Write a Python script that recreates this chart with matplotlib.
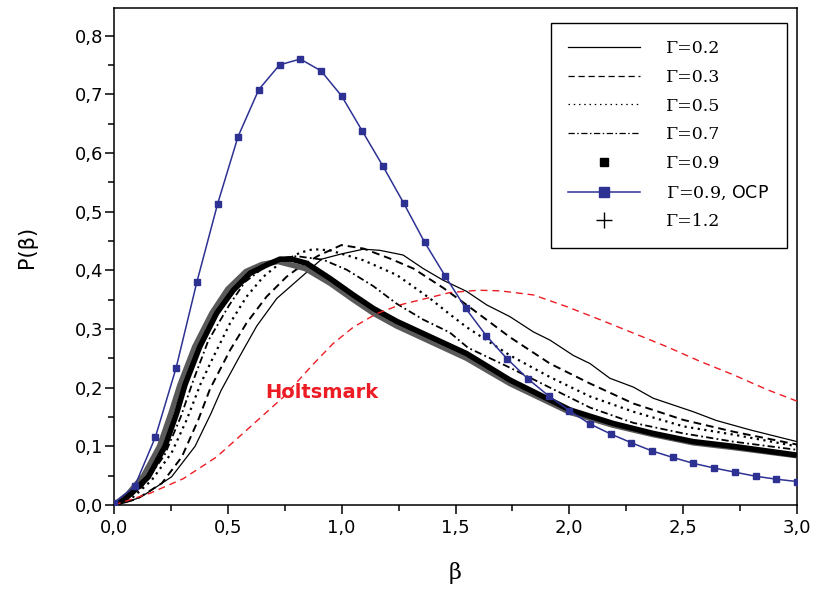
import matplotlib
matplotlib.use('Agg')
import matplotlib.pyplot as plt
from matplotlib.lines import Line2D
from matplotlib.ticker import MultipleLocator, FuncFormatter

plt.rcParams['mathtext.fontset'] = 'custom'
plt.rcParams['mathtext.rm'] = 'DejaVu Serif'
plt.rcParams['mathtext.sf'] = 'DejaVu Sans'
plt.rcParams['font.family'] = ['DejaVu Sans']

# ---------------- data ----------------
b02 = [0.0, 0.05, 0.107, 0.136, 0.253, 0.356, 0.426, 0.47, 0.55, 0.627, 0.715, 0.912, 1.0, 1.096,
       1.168, 1.27, 1.358, 1.446, 1.549, 1.637, 1.739, 1.842, 1.915, 2.017, 2.091, 2.178, 2.281,
       2.368, 2.544, 2.646, 2.794, 3.0]
p02 = [0.0, 0.004, 0.012, 0.018, 0.048, 0.1, 0.156, 0.195, 0.252, 0.305, 0.352, 0.419, 0.428, 0.436,
       0.434, 0.426, 0.403, 0.383, 0.364, 0.341, 0.321, 0.295, 0.281, 0.255, 0.241, 0.216, 0.201,
       0.182, 0.159, 0.144, 0.128, 0.108]

b03 = [0.0, 0.1, 0.21, 0.298, 0.37, 0.422, 0.51, 0.582, 0.67, 0.758, 0.817, 0.898, 0.999, 1.096,
       1.212, 1.315, 1.446, 1.549, 1.739, 1.915, 2.091, 2.281, 2.501, 2.72, 3.0]
p03 = [0.0, 0.01, 0.037, 0.082, 0.145, 0.198, 0.264, 0.31, 0.355, 0.389, 0.406, 0.425, 0.443, 0.437,
       0.42, 0.403, 0.37, 0.341, 0.286, 0.241, 0.207, 0.173, 0.145, 0.125, 0.103]

b05 = [0.0, 0.08, 0.165, 0.253, 0.319, 0.381, 0.436, 0.51, 0.582, 0.656, 0.729, 0.817, 0.875, 0.949,
       1.096, 1.242, 1.388, 1.475, 1.549, 1.739, 1.915, 2.091, 2.281, 2.501, 2.72, 3.0]
p05 = [0.0, 0.012, 0.042, 0.089, 0.145, 0.207, 0.252, 0.31, 0.355, 0.389, 0.412, 0.43, 0.436, 0.434,
       0.417, 0.392, 0.352, 0.325, 0.303, 0.255, 0.218, 0.185, 0.159, 0.134, 0.12, 0.1]

b07 = [0.0, 0.06, 0.121, 0.222, 0.293, 0.348, 0.414, 0.505, 0.575, 0.676, 0.757, 0.803, 0.919, 1.022,
       1.139, 1.242, 1.358, 1.475, 1.555, 1.739, 1.915, 2.091, 2.281, 2.501, 2.72, 3.0]
p07 = [0.0, 0.012, 0.03, 0.085, 0.15, 0.212, 0.28, 0.34, 0.38, 0.41, 0.422, 0.424, 0.418, 0.401,
       0.373, 0.343, 0.316, 0.294, 0.268, 0.234, 0.2, 0.166, 0.14, 0.122, 0.108, 0.094]

b09 = [0.0, 0.04, 0.077, 0.151, 0.224, 0.275, 0.312, 0.377, 0.451, 0.524, 0.598, 0.67, 0.729, 0.78,
       0.846, 0.949, 1.051, 1.139, 1.242, 1.549, 1.739, 2.003, 2.192, 2.368, 2.544, 2.72, 3.0]
p09 = [0.0, 0.008, 0.02, 0.048, 0.1, 0.156, 0.205, 0.27, 0.327, 0.366, 0.395, 0.409, 0.419, 0.419,
       0.412, 0.386, 0.358, 0.335, 0.313, 0.258, 0.213, 0.162, 0.139, 0.122, 0.108, 0.1, 0.085]

b12 = [0.0, 0.06, 0.13, 0.2, 0.25, 0.29, 0.355, 0.43, 0.5, 0.58, 0.65, 0.72, 0.84, 0.949, 1.051,
       1.139, 1.242, 1.549, 1.739, 2.003, 2.192, 2.368, 2.544, 2.72, 3.0]
p12 = [0.0, 0.018, 0.05, 0.1, 0.156, 0.205, 0.27, 0.327, 0.368, 0.398, 0.41, 0.415, 0.403, 0.378,
       0.35, 0.327, 0.305, 0.25, 0.207, 0.158, 0.136, 0.12, 0.106, 0.098, 0.084]

b_ocp = [0.0, 0.091, 0.182, 0.273, 0.364, 0.455, 0.545, 0.636, 0.727, 0.818, 0.909, 1.0, 1.091,
         1.182, 1.273, 1.364, 1.455, 1.545, 1.636, 1.727, 1.818, 1.909, 2.0, 2.091, 2.182, 2.273,
         2.364, 2.455, 2.545, 2.636, 2.727, 2.818, 2.909, 3.0]
p_ocp = [0.003, 0.032, 0.116, 0.234, 0.380, 0.513, 0.628, 0.708, 0.750, 0.760, 0.740, 0.697, 0.637,
         0.577, 0.514, 0.448, 0.390, 0.335, 0.288, 0.249, 0.215, 0.186, 0.161, 0.138, 0.121, 0.106,
         0.092, 0.081, 0.071, 0.063, 0.056, 0.049, 0.044, 0.040]

b_holt = [0.0, 0.158, 0.305, 0.451, 0.598, 0.744, 0.875, 0.962, 1.051, 1.153, 1.256, 1.329, 1.475,
          1.6, 1.696, 1.842, 1.989, 2.134, 2.281, 2.427, 2.573, 2.72, 2.866, 3.0]
p_holt = [0.0, 0.02, 0.045, 0.082, 0.133, 0.184, 0.24, 0.275, 0.303, 0.326, 0.341, 0.348, 0.362,
          0.366, 0.365, 0.358, 0.338, 0.316, 0.293, 0.27, 0.245, 0.222, 0.197, 0.177]

x_ticks = [0.0, 0.5, 1.0, 1.5, 2.0, 2.5, 3.0]
y_ticks = [0.0, 0.1, 0.2, 0.3, 0.4, 0.5, 0.6, 0.7, 0.8]

labels = ['Γ=0.2', 'Γ=0.3', 'Γ=0.5', 'Γ=0.7', 'Γ=0.9', 'Γ=0.9, $\\mathsf{OCP}$', 'Γ=1.2']

# ---------------- figure ----------------
fig = plt.figure(figsize=(8.14, 5.9), dpi=100)
ax = fig.add_axes([114 / 814, 85 / 590, 683 / 814, 497 / 590])

blue = '#2d3192'
red = '#ed1c24'

ax.plot(b_holt, p_holt, color=red, lw=1.0, ls=(0, (5, 3.5)), zorder=4)
ax.plot(b02, p02, color='black', lw=0.9, ls='-', zorder=3)
ax.plot(b03, p03, color='black', lw=1.4, ls=(0, (4, 2.5)), zorder=3)
ax.plot(b05, p05, color='black', lw=1.6, ls=(0, (1, 2)), zorder=3)
ax.plot(b07, p07, color='black', lw=1.3, ls=(0, (4, 1.8, 1, 1.8)), zorder=3)
ax.plot(b12, p12, color='#5a5a5a', lw=4.0, ls='-', zorder=3.2, solid_capstyle='butt')
ax.plot(b09, p09, color='black', lw=4.0, ls='-', zorder=3.4, solid_capstyle='butt')
ax.plot(b_ocp, p_ocp, color=blue, lw=1.1, marker='s', ms=5, mfc=blue, mec=blue, zorder=5)

ax.text(0.663, 0.182, 'Holtsmark', color=red, fontsize=14, fontweight='bold',
        ha='left', va='baseline', family='DejaVu Sans')

ax.set_xlim(0, 3.0)
ax.set_ylim(0, 0.847)
ax.set_xticks(x_ticks)
ax.set_yticks(y_ticks)
ax.xaxis.set_minor_locator(MultipleLocator(0.25))
ax.yaxis.set_minor_locator(MultipleLocator(0.05))
fmt = FuncFormatter(lambda v, p: ('%.1f' % v).replace('.', ','))
ax.xaxis.set_major_formatter(fmt)
ax.yaxis.set_major_formatter(fmt)
ax.tick_params(which='both', direction='out', top=False, right=False, width=1.1,
               labelsize=13)
ax.tick_params(which='major', length=6.5)
ax.tick_params(which='minor', length=4.0)
ax.tick_params(axis='x', which='major', pad=3.5)
ax.tick_params(axis='y', which='major', pad=1.0)
for s in ax.spines.values():
    s.set_linewidth(1.1)

ax.set_xlabel('β', family='DejaVu Serif', fontsize=16)
ax.set_ylabel('P(β)', fontsize=15)
ax.xaxis.set_label_coords(0.4993, -0.115)
ax.yaxis.set_label_coords(-0.113, 0.52)

handles = [
    Line2D([], [], color='black', lw=0.9, ls='-'),
    Line2D([], [], color='black', lw=0.9, ls=(0, (5, 3))),
    Line2D([], [], color='black', lw=0.9, ls=(0, (1.2, 3))),
    Line2D([], [], color='black', lw=0.9, ls=(0, (5, 2, 1.2, 2))),
    Line2D([], [], color='black', ls='none', marker='s', ms=6),
    Line2D([], [], color=blue, lw=1.1, marker='s', ms=7, mfc=blue, mec=blue),
    Line2D([], [], color='black', ls='none', marker='+', ms=12, mew=1.0),
]
leg = ax.legend(handles, labels, loc='upper right', bbox_to_anchor=(0.985, 0.970),
                prop={'family': 'DejaVu Serif', 'size': 12.5}, frameon=True,
                fancybox=False, edgecolor='black', framealpha=1, handlelength=4.1,
                handletextpad=1.55, labelspacing=0.67, borderpad=1.0, borderaxespad=0)
leg.get_frame().set_linewidth(1.0)

fig.savefig('out.png', dpi=100)
